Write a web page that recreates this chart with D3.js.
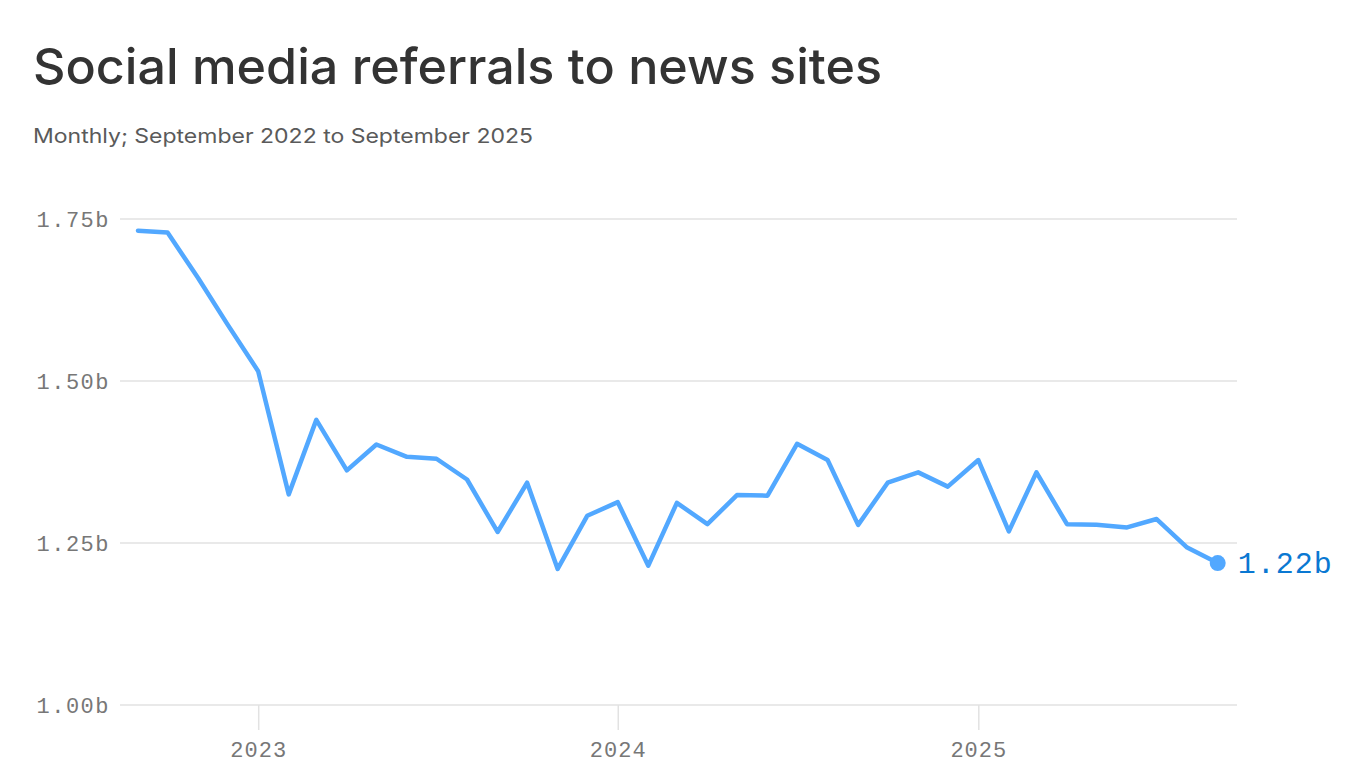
<!DOCTYPE html>
<html>
<head>
<meta charset="utf-8">
<script src="https://cdn.jsdelivr.net/npm/d3@7"></script>
<style>
  html, body { margin: 0; padding: 0; background: #fff; }
  svg { display: block; }
</style>
</head>
<body>
<svg id="chart" width="1366" height="768"></svg>
<script>
const titleText = "Social media referrals to news sites";
const subtitleText = "Monthly; September 2022 to September 2025";

const months = [
  "2022-09","2022-10","2022-11","2022-12",
  "2023-01","2023-02","2023-03","2023-04","2023-05","2023-06","2023-07","2023-08","2023-09","2023-10","2023-11","2023-12",
  "2024-01","2024-02","2024-03","2024-04","2024-05","2024-06","2024-07","2024-08","2024-09","2024-10","2024-11","2024-12",
  "2025-01","2025-02","2025-03","2025-04","2025-05","2025-06","2025-07","2025-08","2025-09"
];
// Referrals, billions
const referrals = [
  1.732, 1.729, 1.659, 1.587,
  1.515, 1.325, 1.440, 1.362, 1.402, 1.383, 1.380, 1.348, 1.267, 1.343, 1.210, 1.292,
  1.313, 1.215, 1.312, 1.279, 1.324, 1.323, 1.403, 1.378, 1.278, 1.343, 1.359, 1.337,
  1.378, 1.268, 1.359, 1.279, 1.278, 1.274, 1.287, 1.243, 1.219
];
const yTicks = [1.00, 1.25, 1.50, 1.75];
const yTickLabels = ["1.00b", "1.25b", "1.50b", "1.75b"];
const xTickYears = ["2023", "2024", "2025"];
const endLabel = "1.22b";

const parse = d3.timeParse("%Y-%m");
const data = months.map((m, i) => ({ date: parse(m), value: referrals[i] }));

const svg = d3.select("#chart");

const x = d3.scaleTime()
  .domain([data[0].date, data[data.length - 1].date])
  .range([138, 1217.7]);
const y = d3.scaleLinear().domain([1.0, 1.75]).range([705, 219]);

const gridLeft = 120, gridRight = 1237;
const monoFont = "'Liberation Mono', 'DejaVu Sans Mono', monospace";

// Title & subtitle
svg.append("text")
  .attr("x", 33).attr("y", 84)
  .attr("font-family", "Inter, 'Noto Sans', sans-serif")
  .attr("font-size", 50)
  .attr("font-weight", 500)
  .attr("fill", "#333333")
  .attr("textLength", 849)
  .attr("lengthAdjust", "spacingAndGlyphs")
  .text(titleText);

svg.append("text")
  .attr("x", 33).attr("y", 143)
  .attr("font-family", "Inter, 'Noto Sans', sans-serif")
  .attr("font-size", 20)
  .attr("fill", "#5a5a5a")
  .attr("textLength", 500)
  .attr("lengthAdjust", "spacingAndGlyphs")
  .text(subtitleText);

// Gridlines
svg.append("g").selectAll("line")
  .data(yTicks)
  .join("line")
  .attr("x1", gridLeft).attr("x2", gridRight)
  .attr("y1", d => y(d)).attr("y2", d => y(d))
  .attr("stroke", "#e2e2e2")
  .attr("stroke-width", 1.5);

// Y labels
svg.append("g").selectAll("text")
  .data(yTicks)
  .join("text")
  .attr("x", 110)
  .attr("y", d => y(d) + 8)
  .attr("text-anchor", "end")
  .attr("font-family", monoFont)
  .attr("font-size", 22)
  .attr("letter-spacing", 1.5)
  .attr("fill", "#777777")
  .text((d, i) => yTickLabels[i]);

// X axis ticks
const xTickDates = xTickYears.map(yr => parse(yr + "-01"));
const xAxis = d3.axisBottom(x)
  .tickValues(xTickDates)
  .tickSize(25)
  .tickFormat((d, i) => xTickYears[i]);
const gx = svg.append("g").attr("transform", "translate(0,705)").call(xAxis);
gx.select(".domain").remove();
gx.selectAll(".tick line").attr("stroke", "#e2e2e2").attr("stroke-width", 1.5);
gx.selectAll(".tick text")
  .attr("y", 52)
  .attr("dy", 0)
  .attr("font-family", monoFont)
  .attr("font-size", 22)
  .attr("letter-spacing", 1)
  .attr("fill", "#777777");

// Line
const line = d3.line().x(d => x(d.date)).y(d => y(d.value));
svg.append("path")
  .datum(data)
  .attr("d", line)
  .attr("fill", "none")
  .attr("stroke", "#52a8ff")
  .attr("stroke-width", 4.5)
  .attr("stroke-linejoin", "round")
  .attr("stroke-linecap", "round");

// End point & label
const last = data[data.length - 1];
svg.append("circle")
  .attr("cx", x(last.date)).attr("cy", y(last.value))
  .attr("r", 8)
  .attr("fill", "#52a8ff");

svg.append("text")
  .attr("x", x(last.date) + 20)
  .attr("y", y(last.value) + 10)
  .attr("font-family", monoFont)
  .attr("font-size", 30)
  .attr("letter-spacing", 1)
  .attr("fill", "#0a78d2")
  .text(endLabel);
</script>
</body>
</html>
